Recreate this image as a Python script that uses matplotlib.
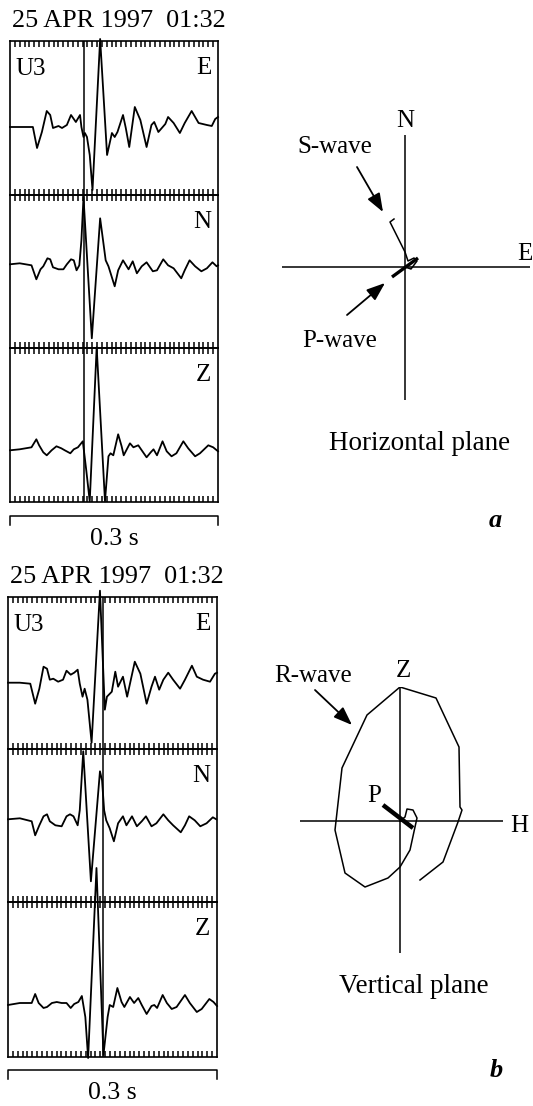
import numpy as np
import matplotlib
matplotlib.use("Agg")
import matplotlib.pyplot as plt

W, H = 533, 1106
plt.rcParams["font.family"] = ["Liberation Serif", "DejaVu Serif"]
FS = 18

EVENT = "25 APR 1997  01:32"
STATION = "U3"
COMPONENTS = ["E", "N", "Z"]
SPAN_MS = 300           # window length of each seismogram
SCALE_LABEL = "0.3 s"
N_TICKS = 43            # timing marks across the window

# seismograms, (time ms, amplitude) -- event a
TRACE_A_E = [(0, 0), (33, 0), (39, -21), (46, -5), (53, 16), (58, 12), (62, -1), (70, 1), (75, -1),
             (82, 2), (88, 12), (91, 9), (95, 5), (101, 12), (103, 0), (106, -10), (108, -6), (111, -10),
             (115, -28), (119, -63), (130, 88), (140, -28), (147, -6), (151, -10), (155, -5), (163, 12),
             (167, -1), (172, -20), (180, 20), (188, 7), (197, -20), (204, 2), (208, 5), (214, -5),
             (224, 3), (228, 10), (236, 4), (245, -6), (252, 4), (262, 16), (272, 4), (284, 2), (291, 1),
             (296, 8), (300, 10)]
TRACE_A_N = [(0, 0), (14, 1), (31, -1), (38, -15), (44, -5), (48, -2), (54, 6), (58, 5), (62, -3),
             (70, -5), (77, -5), (82, 0), (88, 5), (92, 4), (96, -6), (100, -1), (103, 24), (106, 67),
             (118, -74), (130, 46), (138, 4), (142, -2), (151, -22), (156, -6), (163, 4), (171, -5),
             (177, 3), (183, -9), (190, -2), (197, 2), (206, -7), (212, -6), (221, 5), (228, -1),
             (236, -4), (247, -14), (252, -6), (259, 4), (267, -2), (276, -7), (284, -4), (292, 2),
             (298, -2), (300, -1)]
TRACE_A_Z = [(0, -1), (14, 0), (31, 2), (38, 10), (42, 4), (48, -3), (53, -6), (60, -1), (67, 3),
             (74, 1), (79, -1), (87, -4), (92, 0), (98, 2), (105, 8), (110, -21), (115, -52), (125, 102),
             (137, -52), (142, -7), (145, -4), (149, -6), (156, 15), (161, 3), (164, -6), (173, 6),
             (178, 2), (185, 4), (190, -1), (197, -8), (203, -3), (207, 0), (212, -6), (220, 8), (226, -2),
             (233, -7), (240, -4), (250, 8), (257, 1), (267, -7), (274, -4), (286, 4), (293, 2), (300, -2)]
PICK_A = 107

# seismograms, (time ms, amplitude) -- event b
TRACE_B_E = [(0, 0), (17, 0), (32, -1), (39, -21), (45, -6), (51, 16), (56, 14), (60, 3), (65, 4),
             (72, 1), (79, 3), (84, 12), (90, 8), (95, 10), (100, 13), (103, -1), (107, -14), (110, -6),
             (114, -17), (120, -60), (132, 92), (139, -27), (142, -14), (149, -9), (154, 11), (158, -4),
             (165, 6), (171, -14), (182, 21), (190, 9), (199, -21), (206, -4), (211, 6), (217, -7),
             (223, 3), (230, 10), (237, 3), (247, -6), (254, 3), (264, 17), (271, 6), (280, 3), (290, 1),
             (297, 9), (300, 10)]
TRACE_B_N = [(0, 0), (17, 1), (34, -2), (39, -16), (45, -6), (51, 3), (56, 5), (60, -2), (68, -6),
             (77, -7), (84, 3), (89, 5), (94, 3), (100, -6), (103, 9), (108, 68), (119, -62), (132, 48),
             (135, 39), (138, 9), (141, -1), (146, -9), (152, -22), (158, -4), (165, 3), (170, -6),
             (178, 3), (185, -7), (192, -2), (198, 3), (206, -7), (213, -4), (223, 5), (230, -1),
             (237, -6), (248, -13), (254, -6), (260, 3), (268, -1), (276, -7), (285, -4), (294, 2), (299, 0)]
TRACE_B_Z = [(0, 0), (17, 2), (34, 2), (39, 11), (44, 2), (51, -3), (56, -2), (63, 2), (70, 3), (77, 2),
             (84, 2), (90, -3), (95, 1), (101, 3), (106, 9), (111, -12), (115, -53), (127, 137),
             (137, -50), (143, -12), (146, 0), (151, -2), (157, 17), (163, 3), (167, -2), (175, 8),
             (181, 2), (187, 7), (192, 0), (199, -9), (206, -1), (210, 0), (214, -3), (222, 10), (228, 2),
             (235, -4), (242, -2), (254, 10), (261, 2), (271, -7), (278, -4), (289, 6), (295, 3), (300, -1)]
PICK_B = 136

# particle motion, horizontal plane (E, N)
HORIZ_P = [(-13, -10), (13, 9)]
HORIZ_S = [(0, 0), (6, -2), (12, 6), (9, 9), (3, 6), (0, 15), (-15, 45), (-11, 48)]

# particle motion, vertical plane (H, Z)
VERT_P = [(-17, 16), (13, -7)]
VERT_R = [(0, 0), (5, 4), (7, 12), (13, 11), (17, 3), (15, -6), (10, -29), (0, -46), (-12, -57),
          (-35, -66), (-55, -52), (-65, -9), (-58, 53), (-33, 106), (0, 134), (36, 123), (59, 74),
          (60, 14), (62, 11), (58, -1), (43, -41), (20, -59)]


def px_axes(fig, x0, y0, x1, y1):
    return fig.add_axes([x0 / W, 1 - y1 / H, (x1 - x0) / W, (y1 - y0) / H])


def px_text(fig, x, y, s, **kw):
    kw.setdefault("fontsize", FS)
    kw.setdefault("va", "baseline")
    return fig.text(x / W, 1 - y / H, s, **kw)


def draw_seismograms(fig, traces, pick, left, right, edges, ylims, title_y, bar_y):
    px_text(fig, left + 1.5, title_y, EVENT, ha="left", fontsize=18.8)
    ticks = np.arange(1, N_TICKS) * SPAN_MS / N_TICKS
    for i, comp in enumerate(COMPONENTS):
        ax = px_axes(fig, left, edges[i], right, edges[i + 1])
        ax.patch.set_alpha(0)
        t, a = zip(*traces[i])
        ax.plot(t, a, color="black", lw=1.3, clip_on=False)
        ax.axvline(pick, color="black", lw=1.1)
        ax.set_xlim(0, SPAN_MS)
        ax.set_ylim(*ylims[i])
        ax.set_xticks(ticks)
        ax.set_yticks([])
        ax.tick_params(axis="x", direction="in", top=True, bottom=True, length=4.5, width=1.1,
                       labelbottom=False)
        for sp in ax.spines.values():
            sp.set_linewidth(1.2)
        if i == 0:
            px_text(fig, left + 5, edges[i] + 34, STATION, ha="left")
        px_text(fig, right - 7, edges[i] + 33, comp, ha="right")

    # scale bar under the traces
    bar = px_axes(fig, left, bar_y, right, bar_y + 9)
    bar.plot([0, 0, SPAN_MS, SPAN_MS], [0, 1, 1, 0], color="black", lw=1.1, clip_on=False)
    bar.set_xlim(0, SPAN_MS)
    bar.set_ylim(0, 1)
    bar.axis("off")
    px_text(fig, (left + right) / 2, bar_y + 29, SCALE_LABEL, ha="center", fontsize=18.5)


def draw_hodogram(fig, box, origin, p_path, wave_path, p_lw):
    x0, y0, x1, y1 = box
    ox, oy = origin
    ax = px_axes(fig, x0, y0, x1, y1)
    ax.patch.set_alpha(0)
    ax.set_xlim(x0 - ox, x1 - ox)
    ax.set_ylim(oy - y1, oy - y0)
    ax.axhline(0, color="black", lw=1.1)
    ax.axvline(0, color="black", lw=1.1)
    px, py = zip(*p_path)
    ax.plot(px, py, color="black", lw=p_lw, solid_capstyle="butt")
    wx, wy = zip(*wave_path)
    ax.plot(wx, wy, color="black", lw=1.1)
    ax.axis("off")
    return ax


def arrow(ax, tip, tail):
    ax.annotate("", xy=tip, xytext=tail,
                arrowprops=dict(arrowstyle="-|>,head_length=0.8,head_width=0.3", mutation_scale=14,
                                lw=1.3, color="black", shrinkA=0, shrinkB=0))


fig = plt.figure(figsize=(W / 100, H / 100), dpi=100, facecolor="white")

draw_seismograms(fig, [TRACE_A_E, TRACE_A_N, TRACE_A_Z], PICK_A, 10, 218, [41, 195, 348, 502],
                 [(-68, 86), (-83.7, 69.3), (-52.7, 101.3)], 27, 516)
draw_seismograms(fig, [TRACE_B_E, TRACE_B_N, TRACE_B_Z], PICK_B, 8, 217, [597, 749, 902, 1057],
                 [(-66.3, 85.7), (-82.7, 70.3), (-52, 103)], 583, 1070)

# horizontal plane
hax = draw_hodogram(fig, (282, 135, 530, 400), (405, 267), HORIZ_P, HORIZ_S, 2.4)
arrow(hax, (-22, 55), (-48, 100))
arrow(hax, (-20, -16), (-58, -48))
px_text(fig, 405, 127, "N", ha="center")
px_text(fig, 517, 260, "E", ha="left")
px_text(fig, 335, 153, "S-wave", ha="center")
px_text(fig, 340, 347, "P-wave", ha="center")
px_text(fig, 420, 450, "Horizontal plane", ha="center", fontsize=19.5)
px_text(fig, 495, 527, "a", ha="center", fontweight="bold", style="italic", fontsize=19)

# vertical plane
vax = draw_hodogram(fig, (300, 687, 503, 953), (400, 821), VERT_P, VERT_R, 3.2)
arrow(vax, (-48, 96), (-85, 131))
px_text(fig, 403, 677, "Z", ha="center")
px_text(fig, 510, 832, "H", ha="left")
px_text(fig, 313, 682, "R-wave", ha="center")
px_text(fig, 374, 802, "P", ha="center")
px_text(fig, 414, 993, "Vertical plane", ha="center", fontsize=19.5)
px_text(fig, 496, 1077, "b", ha="center", fontweight="bold", style="italic", fontsize=19)

fig.savefig("out.png", dpi=100, facecolor="white")
